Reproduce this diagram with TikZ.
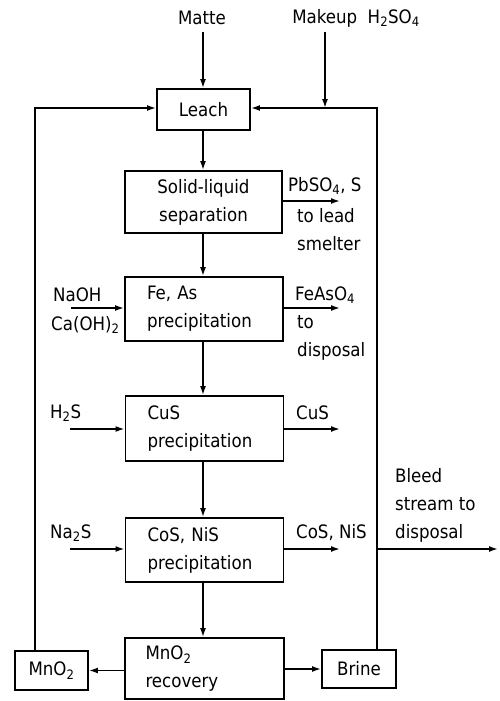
\documentclass[tikz,border=0pt]{standalone}
\usepackage{fontspec}
\setmainfont{DejaVu Sans Condensed}
\usetikzlibrary{arrows.meta}
\begin{document}
\begin{tikzpicture}[x=1pt,y=-1pt,
  font=\fontsize{18.5}{28}\selectfont,
  line/.style={line width=1.6pt},
  arr/.style={line width=1.6pt,-{Latex[length=9pt,width=6pt]}},
  box/.style={draw,line width=1.9pt,rectangle,inner sep=0pt},
  proc/.style={box,minimum width=158pt,align=left,text width=114pt,inner xsep=22pt},
  lbl/.style={anchor=west,inner sep=0pt,align=left}]
\useasboundingbox (0,0) rectangle (499,701);
% boxes
\node[box,minimum width=93pt,minimum height=41pt] (leach) at (203.5,109.5) {Leach};
\node[box,minimum width=157pt,minimum height=62pt,align=center] (sep) at (203.5,202) {Solid-liquid\\separation};
\node[proc,minimum height=64pt] (fe) at (204,309) {Fe, As\\precipitation};
\node[proc,minimum height=65pt] (cus) at (204.5,428.5) {CuS\\precipitation};
\node[proc,minimum height=64pt] (cos) at (204.5,550) {CoS, NiS\\precipitation};
\node[box,minimum width=159pt,minimum height=61pt,align=left,text width=118pt,inner xsep=20pt] (mn) at (204.5,668.5) {MnO\textsubscript{2}\\recovery};
\node[box,minimum width=73pt,minimum height=39pt] (mno) at (51.5,670.5) {MnO\textsubscript{2}};
\node[box,minimum width=74pt,minimum height=38pt] (brine) at (359,669) {Brine};
% feeds
\node[inner sep=0pt] (matte) at (202,18) {Matte};
\node[inner sep=0pt] (makeup) at (356,18) {Makeup\ \ H\textsubscript{2}SO\textsubscript{4}};
\coordinate (mk) at (325,108);
\coordinate (mt) at (203,32);
\draw[arr] (mt) -- (leach.north -| mt);
\draw[arr] (325,32) -- (mk);
% main stream
\coordinate (ax) at (203,0);
\draw[arr] (leach.south -| ax) -- (sep.north -| ax);
\draw[arr] (sep.south -| ax) -- (fe.north -| ax);
\draw[arr] (fe.south -| ax) -- (cus.north -| ax);
\draw[arr] (cus.south -| ax) -- (cos.north -| ax);
\draw[arr] (cos.south -| ax) -- (mn.north -| ax);
% products right
\node[lbl] (pb) at (288,186) {PbSO\textsubscript{4}, S};
\node[lbl] (pb2) at (297,230) {to lead\\smelter};
\coordinate (pbe) at (340,201);
\draw[arr] (sep.east |- pbe) -- (pbe);
\node[lbl] (fa) at (295,295) {FeAsO\textsubscript{4}};
\node[lbl] (fa2) at (297,338) {to\\disposal};
\coordinate (fae) at (340,308);
\draw[arr] (fe.east |- fae) -- (fae);
\node[lbl] (cu) at (296,413) {CuS};
\coordinate (cue) at (340,429);
\draw[arr] (cus.east |- cue) -- (cue);
\node[lbl] (cn) at (296,533) {CoS, NiS};
\coordinate (cne) at (340,549);
\draw[arr] (cos.east |- cne) -- (cne);
% reagents left
\node[lbl] (naoh) at (53,295) {NaOH};
\node[lbl] (caoh) at (51,325) {Ca(OH)\textsubscript{2}};
\coordinate (fes) at (71,308);
\draw[arr] (fes) -- (fe.west |- fes);
\node[lbl] (h2s) at (50,413) {H\textsubscript{2}S};
\coordinate (cus0) at (70,429);
\draw[arr] (cus0) -- (cus.west |- cus0);
\node[lbl] (na2s) at (50,533) {Na\textsubscript{2}S};
\coordinate (cos0) at (70,549);
\draw[arr] (cos0) -- (cos.west |- cos0);
% recovery outputs
\draw[arr] (mn.west |- mno) -- (mno.east);
\draw[arr] (mn.east |- brine) -- (brine.west);
% recycle loops
\coordinate (lt) at (35,108);
\draw[arr] (mno.north -| lt) -- (lt) -- (leach.west |- lt);
\coordinate (rt) at (377,108);
\draw[line] (brine.north -| rt) -- (rt) -- (mk);
\draw[arr] (mk) -- (leach.east |- mk);
% bleed
\node[lbl] (bleed) at (395,505) {Bleed\\stream to\\disposal};
\coordinate (bl0) at (377,549);
\coordinate (bl1) at (498,549);
\draw[arr] (bl0) -- (bl1);
\end{tikzpicture}
\end{document}
